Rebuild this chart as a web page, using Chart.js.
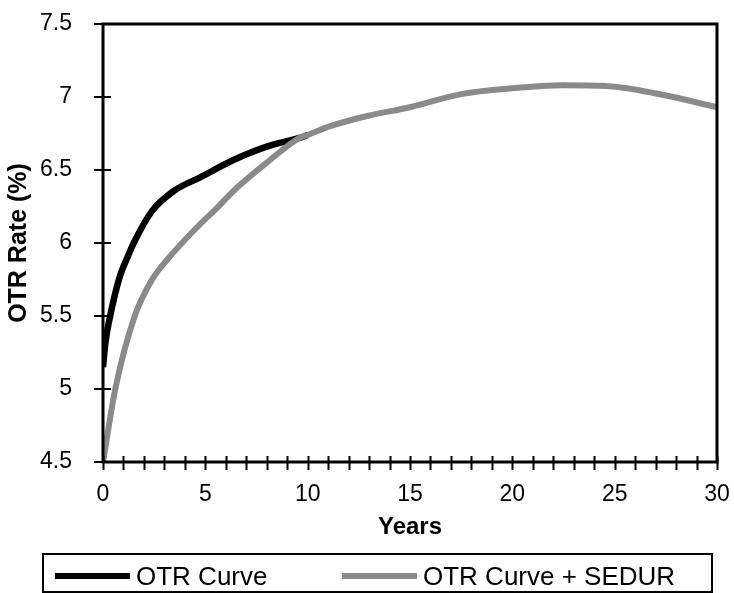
<!DOCTYPE html>
<html>
<head>
<meta charset="utf-8">
<title>OTR Rate</title>
<script src="https://cdn.jsdelivr.net/npm/chart.js@4/dist/chart.umd.min.js"></script>
<style>
  body { margin: 0; background: #fff; }
  canvas { display: block; }
</style>
</head>
<body>
<canvas id="otrChart" width="734" height="593"></canvas>
<script>
// OTR curve (ends where it joins the SEDUR curve at 10 years)
const otrYears = [0, 0.12, 0.35, 0.8, 1.25, 1.5, 2.4, 3.5, 4.75, 6.4, 8, 9.6, 10];
const otrRate  = [5.15, 5.32, 5.5, 5.76, 5.92, 6.0, 6.22, 6.36, 6.45, 6.57, 6.66, 6.72, 6.74];

// OTR curve + SEDUR, full 30 years
const sedurYears = [0, 0.6, 1.55, 2.4, 3.1, 4.75, 5.5, 6.4, 8, 9.6, 10, 11.1, 12.9, 15, 17.5, 20, 22.5, 25, 27.5, 30];
const sedurRate  = [4.5, 5.0, 5.5, 5.75, 5.88, 6.13, 6.23, 6.36, 6.55, 6.72, 6.74, 6.8, 6.87, 6.93, 7.02, 7.06, 7.08, 7.07, 7.01, 6.93];

const seriesLabels = ['OTR Curve', 'OTR Curve + SEDUR'];
const labelEvery = 5; // x labels only every 5 years, ticks every year

Chart.defaults.font.family = '"Liberation Sans", Arial, Helvetica, sans-serif';
Chart.defaults.color = '#000';

function toPoints(xs, ys) {
  return xs.map((x, i) => ({ x: x, y: ys[i] }));
}

// box around the plot + tick marks crossing the axes
const frameAndTicks = {
  id: 'frameAndTicks',
  afterDraw(chart) {
    const ctx = chart.ctx;
    const a = chart.chartArea;
    const xs = chart.scales.x, ys = chart.scales.y;
    ctx.save();
    ctx.strokeStyle = '#000';
    ctx.lineWidth = 2;
    ctx.beginPath();
    xs.ticks.forEach(t => {
      const px = Math.round(xs.getPixelForValue(t.value)) + 0.5;
      ctx.moveTo(px, a.bottom - 6);
      ctx.lineTo(px, a.bottom + 8);
    });
    ys.ticks.forEach(t => {
      const py = Math.round(ys.getPixelForValue(t.value));
      ctx.moveTo(a.left - 9, py);
      ctx.lineTo(a.left + 8, py);
    });
    ctx.stroke();
    ctx.lineWidth = 3;
    ctx.strokeRect(a.left, a.top, a.right - a.left, a.bottom - a.top);
    ctx.restore();
  }
};

// framed legend under the axis title
const boxedLegend = {
  id: 'boxedLegend',
  afterDraw(chart) {
    const ctx = chart.ctx;
    const sets = chart.data.datasets;
    const starts = [55, 342];
    const lineY = 576;
    ctx.save();
    ctx.strokeStyle = '#000';
    ctx.lineWidth = 2;
    ctx.strokeRect(43, 554, 669, 38);
    ctx.font = '26px "Liberation Sans", Arial, sans-serif';
    ctx.textBaseline = 'middle';
    ctx.fillStyle = '#000';
    sets.forEach((ds, i) => {
      ctx.beginPath();
      ctx.strokeStyle = ds.borderColor;
      ctx.lineWidth = 6;
      ctx.moveTo(starts[i], lineY);
      ctx.lineTo(starts[i] + 75, lineY);
      ctx.stroke();
      ctx.fillText(ds.label, starts[i] + 81, lineY + 2);
    });
    ctx.restore();
  }
};

new Chart(document.getElementById('otrChart'), {
  type: 'line',
  data: {
    datasets: [
      {
        label: seriesLabels[0],
        data: toPoints(otrYears, otrRate),
        borderColor: '#000000',
        borderWidth: 6.5,
        order: 1
      },
      {
        label: seriesLabels[1],
        data: toPoints(sedurYears, sedurRate),
        borderColor: '#8a8a8a',
        borderWidth: 6,
        order: 0
      }
    ]
  },
  options: {
    responsive: false,
    animation: false,
    elements: {
      point: { radius: 0 },
      line: { cubicInterpolationMode: 'monotone', fill: false }
    },
    layout: { padding: { top: 24, right: 17, bottom: 51, left: 0 } },
    plugins: {
      legend: { display: false },
      tooltip: { enabled: false }
    },
    scales: {
      x: {
        type: 'linear',
        min: 0,
        max: 30,
        grid: { display: false },
        border: { display: false },
        ticks: {
          stepSize: 1,
          autoSkip: false,
          maxRotation: 0,
          padding: 11,
          font: { size: 23 },
          callback: v => (v % labelEvery === 0 ? String(v) : '')
        },
        title: {
          display: true,
          text: 'Years',
          font: { size: 24, weight: 'bold' },
          padding: { top: 0, bottom: 0 }
        },
        afterFit: s => {
          s.height = 80;
          s.paddingLeft = 0;
          s.paddingRight = 0;
        }
      },
      y: {
        min: 4.5,
        max: 7.5,
        grid: { display: false },
        border: { display: false },
        ticks: {
          stepSize: 0.5,
          padding: 23,
          font: { size: 23 },
          callback: v => String(v)
        },
        title: {
          display: true,
          text: 'OTR Rate (%)',
          font: { size: 25, weight: 'bold' },
          padding: { top: 4, bottom: 0 }
        },
        afterFit: s => {
          s.width = 103;
          s.paddingTop = 0;
          s.paddingBottom = 0;
        }
      }
    }
  },
  plugins: [frameAndTicks, boxedLegend]
});
</script>
</body>
</html>
